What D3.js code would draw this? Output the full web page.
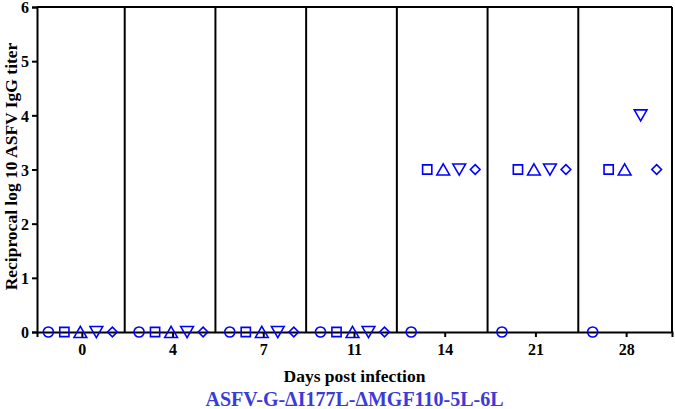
<!DOCTYPE html>
<html>
<head>
<meta charset="utf-8">
<script src="https://cdn.jsdelivr.net/npm/d3@7"></script>
<style>
body{margin:0;background:#fff;}
text{font-family:"Liberation Serif","Times New Roman",serif;font-weight:bold;}
</style>
</head>
<body>
<div id="chart"></div>
<script>
// days post infection (groups)
var days = ['0','4','7','11','14','21','28'];
// one series per animal, value = log10 titer per day
var animals = ['circle','square','triangle','triangleDown','diamond'];
var titers = {
  circle:       [0,0,0,0,0,0,0],
  square:       [0,0,0,0,3,3,3],
  triangle:     [0,0,0,0,3,3,3],
  triangleDown: [0,0,0,0,3,3,4],
  diamond:      [0,0,0,0,3,3,3]
};
var yTicks = [0,1,2,3,4,5,6];

const W = 675, H = 409;
const margin = {left:37, right:3, top:7, bottom:77};

var svg = d3.select('#chart').append('svg')
  .attr('width', W).attr('height', H);

const xScale = d3.scaleBand()
  .domain(days)
  .range([margin.left, W-margin.right])
  .paddingOuter(0);

const yScale = d3.scaleLinear()
  .domain([0,6])
  .range([H-margin.bottom, margin.top]);

// offset of each animal inside a day group
const inner = d3.scalePoint()
  .domain(animals)
  .range([-32, 32]);

const shapes = {
  circle: d3.symbolCircle,
  square: d3.symbolSquare,
  triangle: d3.symbolTriangle,
  triangleDown: d3.symbolTriangle,
  diamond: d3.symbolDiamond2
};
const sizes = {circle:80, square:85, triangle:70, triangleDown:70, diamond:60};
// d3 triangles are centred on the centroid; nudge so the box is centred
const nudge = {triangle:1.8, triangleDown:-1.8};

// separators between day groups
svg.append('g').selectAll('line')
  .data(days.slice(1))
  .enter().append('line')
  .attr('x1', d=>xScale(d)-3).attr('x2', d=>xScale(d)-3)
  .attr('y1', yScale(6)).attr('y2', yScale(0))
  .attr('stroke','#000').attr('stroke-width',2);

// frame top + right
svg.append('line')
  .attr('x1', margin.left).attr('x2', W-margin.right)
  .attr('y1', yScale(6)).attr('y2', yScale(6))
  .attr('stroke','#000').attr('stroke-width',2);
svg.append('line')
  .attr('x1', W-margin.right).attr('x2', W-margin.right)
  .attr('y1', yScale(6)).attr('y2', yScale(0))
  .attr('stroke','#000').attr('stroke-width',2);

// y axis
const yAxisG = svg.append('g')
  .attr('transform','translate('+margin.left+',0)')
  .call(d3.axisLeft(yScale).tickValues(yTicks).tickFormat(d3.format('d')).tickSize(5).tickPadding(3));
yAxisG.selectAll('text').style('font-size','16px').attr('fill','#000').attr('dy','0.36em');

// x axis
const xAxisG = svg.append('g')
  .attr('transform','translate(0,'+yScale(0)+')')
  .call(d3.axisBottom(xScale).tickSize(5).tickPadding(7));
xAxisG.selectAll('text').style('font-size','16px').attr('fill','#000');

svg.selectAll('.domain').attr('stroke','#000').attr('stroke-width',2);
svg.selectAll('.tick line').attr('stroke','#000').attr('stroke-width',2);

// points
animals.forEach(function(a){
  const sym = d3.symbol().type(shapes[a]).size(sizes[a]);
  svg.append('g').selectAll('path')
    .data(days.map((d,i)=>({day:d, v:titers[a][i]})))
    .enter().append('path')
    .attr('d', sym)
    .attr('transform', d=>'translate('+(xScale(d.day)+xScale.bandwidth()/2-2+inner(a))+','+(yScale(d.v)+(nudge[a]||0))+')'+(a==='triangleDown'?' rotate(180)':''))
    .attr('fill','none')
    .attr('stroke','#0000ff')
    .attr('stroke-width',1.6);
});

// axis titles
svg.append('text')
  .attr('transform','translate(17,'+(yScale(3)-3)+') rotate(-90)')
  .attr('text-anchor','middle')
  .style('font-size','17.5px')
  .text('Reciprocal log 10 ASFV IgG titer');

svg.append('text')
  .attr('x', (margin.left+W-margin.right)/2)
  .attr('y', 382)
  .attr('text-anchor','middle')
  .style('font-size','17.5px')
  .text('Days post infection');

svg.append('text')
  .attr('x', (margin.left+W-margin.right)/2)
  .attr('y', 406)
  .attr('text-anchor','middle')
  .attr('fill','#3b3bd6')
  .style('font-size','20px')
  .text('ASFV-G-ΔI177L-ΔMGF110-5L-6L');
</script>
</body>
</html>
